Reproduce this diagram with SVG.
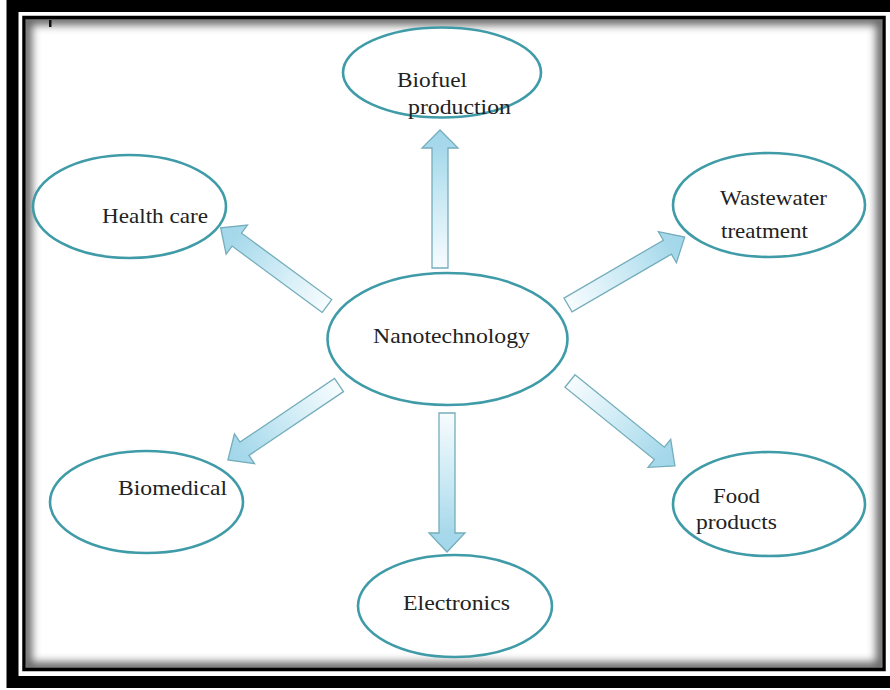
<svg xmlns="http://www.w3.org/2000/svg" width="890" height="690" viewBox="0 0 890 690">
<defs>
<style>
.node ellipse{fill:#fff;stroke:#3f9ba7;stroke-width:2.6}
.node text{font-family:'Liberation Serif','Times New Roman',serif;font-size:21px;fill:#222}
.arrow{fill:url(#ag);stroke:#74adbb;stroke-width:1.3;stroke-linejoin:miter}
</style>
<linearGradient id="ag" x1="0" y1="0" x2="1" y2="0">
<stop offset="0" stop-color="#f7fcfe"/>
<stop offset="0.55" stop-color="#c5e7f3"/>
<stop offset="0.86" stop-color="#a7d9eb"/>
<stop offset="1" stop-color="#a2d6ea"/>
</linearGradient>
<clipPath id="inner"><rect x="26" y="19" width="856" height="649"/></clipPath>
<filter id="blur" x="-5%" y="-5%" width="110%" height="110%"><feGaussianBlur stdDeviation="4"/></filter>
</defs>
<rect width="890" height="690" fill="#fff"/>
<g id="frame">
<rect x="12.5" y="6" width="900" height="676" fill="none" stroke="#000" stroke-width="12"/>
<rect x="24" y="17.5" width="860" height="652" fill="none" stroke="#000" stroke-width="3.5"/>
<g clip-path="url(#inner)">
<rect x="26" y="19" width="856" height="649" fill="none" stroke="#000" stroke-opacity="0.6" stroke-width="12" filter="url(#blur)"/>
</g>
<rect x="49" y="20" width="2.5" height="7" fill="#111"/>
</g>
<g id="connectors">
<path class="arrow" transform="translate(440,268) rotate(-90)" d="M0,-8 L120,-8 L120,-18 L138,0 L120,18 L120,8 L0,8 Z"/>
<path class="arrow" transform="translate(447,413) rotate(90)" d="M0,-8 L120,-8 L120,-18 L139,0 L120,18 L120,8 L0,8 Z"/>
<path class="arrow" transform="translate(327,306) rotate(216.35)" d="M0,-8 L112,-8 L112,-18 L132,0 L112,18 L112,8 L0,8 Z"/>
<path class="arrow" transform="translate(568,305) rotate(-30.2)" d="M0,-8 L115,-8 L115,-18 L135,0 L115,18 L115,8 L0,8 Z"/>
<path class="arrow" transform="translate(570,381) rotate(39)" d="M0,-8 L115,-8 L115,-18 L135,0 L115,18 L115,8 L0,8 Z"/>
<path class="arrow" transform="translate(339,385) rotate(146)" d="M0,-8 L114,-8 L114,-18 L134,0 L114,18 L114,8 L0,8 Z"/>
</g>
<g id="nanotechnology" class="node">
<ellipse cx="447.5" cy="339" rx="120" ry="66"/>
<text x="373" y="343" textLength="157" lengthAdjust="spacingAndGlyphs">Nanotechnology</text>
</g>
<g id="biofuel" class="node">
<ellipse cx="442" cy="72.5" rx="99" ry="45"/>
<text x="397" y="87" textLength="70" lengthAdjust="spacingAndGlyphs">Biofuel</text>
<text x="408" y="114" textLength="103" lengthAdjust="spacingAndGlyphs">production</text>
</g>
<g id="healthcare" class="node">
<ellipse cx="129.5" cy="206.5" rx="96.5" ry="51.5"/>
<text x="102" y="223" textLength="106" lengthAdjust="spacingAndGlyphs">Health care</text>
</g>
<g id="wastewater" class="node">
<ellipse cx="769" cy="205" rx="96" ry="52"/>
<text x="720" y="205" textLength="107" lengthAdjust="spacingAndGlyphs">Wastewater</text>
<text x="721" y="238" textLength="87" lengthAdjust="spacingAndGlyphs">treatment</text>
</g>
<g id="biomedical" class="node">
<ellipse cx="146.5" cy="502" rx="96.5" ry="51"/>
<text x="118" y="495" textLength="109" lengthAdjust="spacingAndGlyphs">Biomedical</text>
</g>
<g id="food" class="node">
<ellipse cx="769" cy="504" rx="96" ry="52"/>
<text x="713" y="503" textLength="47" lengthAdjust="spacingAndGlyphs">Food</text>
<text x="696" y="529" textLength="81" lengthAdjust="spacingAndGlyphs">products</text>
</g>
<g id="electronics" class="node">
<ellipse cx="455" cy="606" rx="97" ry="51"/>
<text x="403" y="610" textLength="107" lengthAdjust="spacingAndGlyphs">Electronics</text>
</g>
</svg>
